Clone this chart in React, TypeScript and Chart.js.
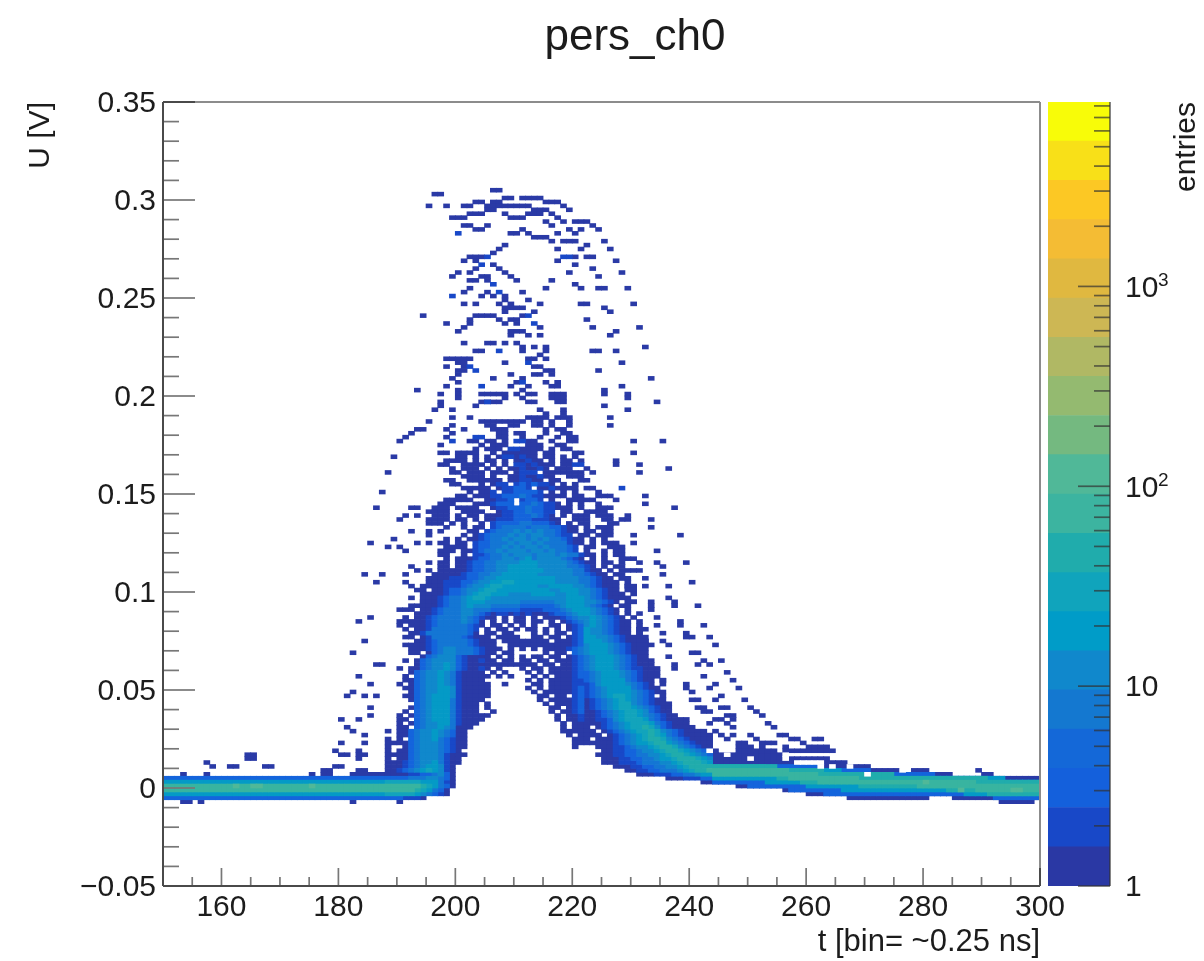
import React, { useEffect, useRef } from "react";
import { Chart, registerables } from "chart.js";
Chart.register(...registerables);

// ---------- labels ----------
const titleText = "pers_ch0";
const xTitle = "t [bin= ~0.25 ns]";
const yTitle = "U [V]";
const zTitle = "entries";
const xMajor = [160, 180, 200, 220, 240, 260, 280, 300];
const xMinor = [155, 165, 170, 175, 185, 190, 195, 205, 210, 215, 225, 230, 235, 245, 250, 255, 265, 270, 275, 285, 290, 295];
const yMajor = [-0.05, 0, 0.05, 0.1, 0.15, 0.2, 0.25, 0.3, 0.35];
const yMinor = [-0.04, -0.03, -0.02, -0.01, 0.01, 0.02, 0.03, 0.04, 0.06, 0.07, 0.08, 0.09, 0.11, 0.12, 0.13, 0.14, 0.16, 0.17, 0.18, 0.19, 0.21, 0.22, 0.23, 0.24, 0.26, 0.27, 0.28, 0.29, 0.31, 0.32, 0.33, 0.34];
const zMajor = [1, 10, 100, 1000];
const zMajorLabels = ["1", "10", "10", "10"];
const zExponents = [[100, "2"], [1000, "3"]] as [number, string][];
const zMinor = [2, 3, 4, 5, 6, 7, 8, 9, 20, 30, 40, 50, 60, 70, 80, 90, 200, 300, 400, 500, 600, 700, 800, 900, 2000, 3000, 4000, 5000, 6000, 7000, 8000];

// ---------- palette and colour bar ----------
const levelColors = ["#2a3aa6", "#1848c8", "#1464dc", "#1476d4", "#1088cc", "#049ac6", "#12a4bc", "#20acac", "#38b4a0", "#50b898"];
const barColors = ["#2a38a4", "#1848c8", "#1460dc", "#1468d8", "#1478d0", "#1088cc", "#009cc8", "#10a4bc", "#20acac", "#3cb4a0", "#50b898", "#74b980", "#94ba70", "#b0b864", "#cdb754", "#e0b840", "#f4bc34", "#fcc824", "#f8e018", "#f8fc08"];
const barEdges = [1, 1.57, 2.47, 3.88, 6.1, 9.57, 15, 23.6, 37, 58.2, 91.5, 144, 226, 355, 557, 875, 1375, 2160, 3390, 5330, 8370];

// ---------- isolated cells: [U of bin centre, t bins...] ----------
const sparseRows: number[][] = [
  [0.305, 206, 207], [0.303, 196, 197], [0.301, 208, 209, 211, 212, 213, 214],
  [0.299, 203, 204, 206, 207, 215, 216, 217],
  [0.297, 195, 198, 201, 202, 205, 206, 207, 208, 209, 210, 211, 212, 218],
  [0.295, 205, 206, 213, 214, 215, 219], [0.293, 202, 203, 204, 208, 212, 213, 214, 216],
  [0.291, 199, 200, 201, 209, 210, 211, 217], [0.289, 215, 218, 220, 221, 222],
  [0.287, 201, 202, 205, 216, 223], [0.285, 203, 204, 211, 219, 221, 224],
  [0.283, 209, 210, 212, 217, 220], [0.281, 213, 214, 215], [0.279, 216, 218, 219, 220, 225],
  [0.277, 208, 222], [0.275, 207, 217, 221, 226], [0.273, 206],
  [0.271, 202, 203, 204, 220, 222, 223], [0.269, 201, 203, 217, 227], [0.267, 206, 220],
  [0.265, 203, 207, 223], [0.263, 202, 208, 219, 228, 200], [0.261, 199, 204, 205, 209, 224],
  [0.259, 202, 203, 205, 210, 216], [0.257, 220], [0.255, 202, 215, 221, 224, 225, 229],
  [0.253, 201, 205, 211], [0.251, 204, 206, 208], [0.249, 208, 212],
  [0.247, 201, 203, 207, 209, 214, 221, 222, 230], [0.245, 208, 209, 210, 211, 225],
  [0.243, 208, 213, 226], [0.241, 194, 203, 204, 205, 206, 211], [0.239, 202, 207, 209, 210, 222],
  [0.237, 198, 202, 208, 210], [0.235, 201, 214, 223, 231], [0.233, 200, 209, 210, 211, 227],
  [0.231, 209, 212, 214, 226], [0.227, 201, 205, 206, 208, 210],
  [0.225, 211, 213, 215, 232], [0.223, 203, 204, 211, 215, 223, 224, 227], [0.221, 214],
  [0.219, 198, 199, 200, 201, 202, 212, 213, 215], [0.217, 200, 201, 208, 228],
  [0.215, 198, 201, 213, 214], [0.213, 200, 201, 215, 216, 224],
  [0.211, 200, 209, 213, 214, 216], [0.209, 199, 206, 211, 233],
  [0.207, 200, 210, 215, 217], [0.205, 198, 209, 212, 216, 217, 228],
  [0.203, 193, 200, 211, 225], [0.201, 197, 200, 204, 205, 206, 207, 208, 210, 212, 213, 216, 217, 218, 229, 225],
  [0.199, 200, 208, 211, 216, 217, 218, 229], [0.197, 197, 204, 205, 206, 207, 212, 213, 217, 218, 234],
  [0.195, 197, 203, 225], [0.193, 196, 199, 214, 218, 229], [0.191, 215, 218],
  [0.189, 199, 202, 212, 213, 214, 215, 217, 218, 219, 226], [0.187, 195, 204, 205, 206, 207, 208, 209, 210, 211, 213, 214, 216, 219],
  [0.185, 199, 205, 206, 209, 210, 213, 214, 216, 219, 226], [0.183, 193, 194, 198, 201, 206, 207, 208, 215, 217, 218],
  [0.181, 192, 199, 207, 208, 210, 211, 215, 218, 219], [0.179, 191, 198, 207, 208, 211, 214, 217, 219, 220],
  [0.177, 190, 202, 203, 205, 206, 208, 212, 213, 216, 219, 220, 230, 235],
  [0.171, 230], [0.169, 189], [0.167, 227], [0.165, 227, 231], [0.163, 236], [0.161, 188, 231],
  [0.149, 232], [0.151, 187], [0.145, 232], [0.143, 186, 237], [0.139, 229], [0.137, 229, 233, 190],
  [0.133, 233], [0.129, 230, 238], [0.127, 189], [0.125, 230, 185], [0.123, 188], [0.121, 234],
  [0.115, 231, 234, 239], [0.113, 235], [0.111, 231], [0.109, 184, 187, 235], [0.107, 228, 232],
  [0.105, 186, 240], [0.103, 229, 232, 236], [0.097, 236], [0.095, 230, 194, 195, 233, 237],
  [0.093, 192, 193, 233, 237, 241], [0.091, 190, 233], [0.087, 185, 234], [0.085, 183, 238], [0.083, 234, 238, 242],
  [0.081, 231], [0.079, 231, 235, 239], [0.077, 239, 240, 243], [0.075, 184, 232, 235], [0.073, 232, 236, 244],
  [0.069, 182, 240, 241], [0.067, 236], [0.065, 233, 242, 245], [0.063, 186, 187, 233, 237, 241, 243],
  [0.061, 234, 237], [0.059, 234, 246], [0.057, 183, 242], [0.055, 235, 247], [0.053, 185, 239, 244],
  [0.051, 239, 243, 248], [0.049, 182, 240], [0.047, 181, 184, 186, 245], [0.045, 240, 241, 244, 249],
  [0.041, 185, 241, 242, 245, 246, 250], [0.039, 242, 243, 251], [0.037, 185, 246, 247, 252],
  [0.035, 180, 183, 239, 244, 245, 247], [0.033, 243, 246, 253], [0.031, 181, 240, 254, 247],
  [0.029, 182, 244], [0.027, 184, 245, 247, 250, 255, 256], [0.025, 246, 251, 257, 258, 261, 262],
  [0.023, 180, 184, 248, 249, 252, 253, 254, 259], [0.021, 248, 249, 250, 252, 256, 260, 261, 262, 263],
  [0.019, 179, 183, 244, 248, 249, 250, 251, 252, 253, 254, 256, 257, 258, 259, 260, 261, 262, 263, 264],
  [0.017, 181, 184, 183, 180, 164, 165],
  [0.015, 183, 164, 165],
  [0.013, 157], [0.011, 179, 180, 158, 161, 162, 167, 168], [0.009, 178, 183, 177, 278, 279, 280, 289, 184],
  [0.007, 153, 157, 175, 177, 178, 182, 183, 184, 185, 186, 187, 276, 290, 291],
  [-0.007, 153, 154, 156, 182, 293, 294, 295, 296, 297, 298],
];
const lightRows: number[][] = [
  [0.283, 200], [0.271, 205, 218, 219], [0.267, 204], [0.257, 206], [0.253, 207], [0.251, 199],
  [0.241, 212], [0.237, 213], [0.223, 207], [0.217, 212], [0.215, 202], [0.213, 203],
  [0.207, 211], [0.205, 204], [0.197, 205], [0.179, 203, 204], [0.177, 199, 210, 211], [0.153, 228],
];
const baselineBright = [[0.001, 162], [0.001, 165], [0.001, 166], [0.001, 175], [0.003, 280], [-0.001, 286], [-0.001, 295], [-0.001, 296]];
const holeRows: number[][] = [
  [0.019, 243], [0.017, 256, 246], [0.015, 256, 250], [0.013, 258, 259, 260, 261, 262], [0.011, 262, 264, 267], [0.007, 270], [0.009, 276],
];

// ---------- dense cells, one character per t bin from gridStartT, top row first; digit = colour level ----------
const gridStartT = 188;
const gridTopU = 0.175;
const gridRows = [
  ".........0......0.000...000..00",
  "...............0.000.110000.0.00",
  ".........00.0000..0.000000.00...00",
  "............00.0.0.0110100.00.0.0",
  "..........0000.0.00.0.00100.0.00.0",
  ".........00..0000.0.0.1101000.0011",
  "...........0.000.0.0.0010010.000..0",
  "...........00.000.000.0111.0000000.0",
  ".............0000.0..00100100..000",
  "..........00..000000.001100.00...00",
  "...........00...0.011.1212110.0.0",
  ".............00000.011221.0010000.00",
  "..............0.001.1122221.0.0.0...0",
  "............00.0001122232110000.00..000",
  "..........00000..00112.1221.0..00000...0",
  ".........000...0001222.2232110.0.0..0",
  "....00..000.0000..01122232211000.0..000",
  ".......0000..0000..0112232211.00..0000",
  "...0.0..000.0.00.000112223210.0.000.000",
  ".......0000.00.0.0011122211100..000..00.0",
  ".......000.0" + ".0..0.122223322210.0.0" + "0...00",
  "..........0." + ".0.00.123333233322100." + "0.000",
  "....0..0.0.." + "..00.1233343434332100." + "00.00",
  ".......0...." + ".0.01233343434433211.0" + "0.000",
  "..........0." + "0.00123343443434332100" + ".0.0",
  ".....0.0.00." + "00.1223334344343333100" + ".0.000",
  "..0.......00" + "00.122334343443433321." + "00..000",
  "...0.....000" + ".00123343444344343321." + "0..0.00",
  ".........00." + ".0.11233434443444343310" + "0.0.00",
  "..........0." + "0001223344345344443210" + ".0.0..000",
  ".......0.00." + "0012233444455544444321" + "00.00.0",
  "....0....00." + "0012233445555544444332" + "10.0.00",
  ".....0.0.000" + "0012233445555554444433" + "100.0.000",
  "...0....0000" + "0122334455555544444433" + "2100.00",
  ".......00001" + "1122344555555555544443" + "32100.00",
  "...0...00011" + "1223445566555555544443" + "321000.0",
  "....0.000011" + "1234456655555544555544" + "321000.00",
  ".....00.0012" + "2344566555555555445554" + "432100.00",
  "......000012" + "2345665554444555544554" + "4321000.0",
  "....0.000123" + "3456654444444444444555" + "43210000",
  "......000123" + "3455544444433333344555" + "443210.00",
  "......000123" + "3454443333322222234555" + "43210.00",
  "...00.001233" + "3443332222211112223455" + "543210.0",
  ".....0001233" + "3443210110101000122345" + "543210.0.0",
  "...0.0012333" + "3432100.0.00.0.0001234" + "4543210.0",
  "..0000012333" + "34320.0.0.00.00.0.0123" + "45432100.0",
  "..0.00012333" + "33210.00.0.0.0..00.012" + "45432100.0",
  "...0.0013333" + "3321.0.00.0.00.0.0.012" + "54432100.00",
  "....00133333" + "3320.00.00...0.0.00.12" + "54432100.0",
  "...00.013333" + "321000.0000..00.00.012" + "55443210000",
  ".....0012333" + "3321000.00000000.00012" + "55543210000",
  "...000012333" + "3321000..0000000000012" + "45554321000" + "0",
  "....00012344" + "33321000.0.0.0.0000123" + "45554321000",
  "....00.02344" + "3332100.00.....0.00.23" + "45554321000",
  "......023444" + "210000.0.0.0.00.00.012" + "34555432100",
  "...0.0234444" + "2100100.00.00.00.00012" + "34555432100",
  ".....0234454" + "21000000000000.00.0012" + "34555432100",
  "..0.00234454" + "210010.0...0.00.000012" + "34555432110" + "0",
  "....02344543" + "10000.0.0...0.0.000012" + "23455543210" + "0",
  "...0.2344543" + "100000.0.0...0.0.00012" + "23455543210" + "00",
  "...002344543" + "10000.......0.0.000011" + "23455553210" + "0.0",
  "..0.02344543" + "100000..0....00.000011" + "12455554321" + "0.0",
  "...002344554" + "100000......0.0.000012" + "12345555321" + "00",
  "....02344554" + "100000.......0.0000012" + "12345555432" + "100",
  "...002345554" + "100000........00.00.12" + "12345665432" + "1.0",
  "....02345553" + "10000.........0.000012" + "01234565432" + "100",
  ".....2345553" + "1000.0.........0.00012" + "01234566432" + "1000",
  "....02345553" + "1000.0..........00.012" + "01234566543" + "2100",
  "...0.2345553" + "1000..0.........0.0012" + "00123456654" + "2100",
  "..0.02345553" + "100000...........0.001" + "00123456654" + "32100",
  "..00.2345553" + "10000............0.001" + "00112456665" + "321000",
  "..0.02344553" + "1000..............0.00" + "00012345666" + "5321000",
  "..00.2344543" + "000...............0.00" + "0.012345667" + "6421000",
  "0.0023445432" + "00................0000" + "00.01234566" + "7643210000",
  "..0023445432" + "00.................0.0" + "000.0123456" + "76532100000",
  "0.0.23445321" + "00..................00" + "0.000123456" + "77643210000",
  "000023444321" + "00..................00" + "00000123455" + "67754321000",
  "0..023444321" + "00..................0." + "..000112344" + "56776432100",
  "0.0023444321" + "0....................." + "...00112234" + "45677654321",
  "000023444310" + "00...................." + "..000112233" + "44567765432",
  "0.0023444310" + "0....................." + "...00011223" + "34556777654",
  "000123445310" + "0....................." + "...00011123" + "33445677765",
  "000123455410" + "......................" + ".....000112" + "23344567777",
  "001234565410" + "......................" + ".......0011" + "22333456778",
  "000011223420" + "......................" + ".........00" + "01112233455",
  "222233344320" + "......................" + "..........." + "...00011122",
  "666666555310" + "......................" + "..........." + ".........00",
  "888888765320",
  "88888765320.",
  "66666543210.",
  "2221110.....",
  "..0.........",
];

// ---------- bands, one list per colour level: [first t bin, last t bin, U low, U high] ----------
const bandL0 = [
  [244, 247, 0.002, 0.018], [248, 255, 0, 0.018], [256, 259, -0.002, 0.016], [260, 263, -0.004, 0.016],
  [264, 266, -0.004, 0.014], [267, 270, -0.006, 0.012], [271, 275, -0.006, 0.01], [276, 280, -0.006, 0.008],
  [281, 284, -0.004, 0.008], [285, 292, -0.006, 0.006], [293, 300, -0.006, 0.006],
];
const bandL2 = [
  [150, 187, -0.006, 0.006], [244, 249, 0.002, 0.012], [250, 256, 0, 0.012], [257, 262, -0.002, 0.012],
  [263, 270, -0.004, 0.01], [271, 281, -0.004, 0.008], [282, 291, -0.004, 0.006], [292, 300, -0.006, 0.004],
];
const bandL5 = [
  [150, 187, -0.004, 0.004], [244, 252, 0.004, 0.012], [253, 259, 0.002, 0.01], [260, 265, 0, 0.01],
  [266, 272, -0.002, 0.008], [273, 286, -0.002, 0.006], [287, 293, -0.004, 0.006], [294, 300, -0.004, 0.004],
];
const bandL7 = [
  [244, 254, 0.006, 0.012], [255, 258, 0.004, 0.01], [259, 262, 0.002, 0.01], [263, 268, 0.002, 0.008],
  [269, 274, 0, 0.008], [275, 283, 0, 0.006], [284, 290, -0.002, 0.006], [291, 300, -0.004, 0.004],
];
const bandL8 = [
  [150, 187, -0.002, 0.002], [244, 256, 0.006, 0.01], [257, 261, 0.004, 0.008], [262, 268, 0.002, 0.006],
  [269, 278, 0.002, 0.004], [279, 288, 0, 0.004], [289, 300, -0.002, 0.002],
];

type Bar = { x: number; y: [number, number] };
const BIN_U = 0.002;

function buildLevels(): Bar[][] {
  const levels: Bar[][] = levelColors.map(() => []);
  const cell = (l: number, t: number, lo: number, hi: number) => levels[l].push({ x: t + 0.5, y: [lo, hi] });
  const addBands = (l: number, bands: number[][]) =>
    bands.forEach(([a, b, lo, hi]) => { for (let t = a; t <= b && t < 300; t++) cell(l, t, lo, hi); });
  addBands(0, bandL0); addBands(2, bandL2); addBands(5, bandL5); addBands(7, bandL7); addBands(8, bandL8);
  sparseRows.forEach(([u, ...ts]) => ts.forEach((t) => cell(0, t, u - BIN_U / 2, u + BIN_U / 2)));
  lightRows.forEach(([u, ...ts]) => ts.forEach((t) => cell(1, t, u - BIN_U / 2, u + BIN_U / 2)));
  baselineBright.forEach(([u, t]) => cell(9, t, u - BIN_U / 2, u + BIN_U / 2));
  gridRows.forEach((row, i) => {
    const u = gridTopU - i * BIN_U;
    [...row].forEach((c, j) => {
      if (c !== ".") cell(Number(c), gridStartT + j, u - BIN_U / 2, u + BIN_U / 2);
    });
  });
  return levels;
}

const FONT = "'Liberation Sans', Arial, sans-serif";
const TEXT = "#1c1c1c";

const mainPlugin = {
  id: "rootFrame",
  afterDatasetsDraw(chart: any) {
    const { ctx, chartArea: a, scales } = chart;
    const xs = scales.x, ys = scales.y;
    ctx.save();
    ctx.strokeStyle = "#777";
    ctx.lineWidth = 1.7;
    const seg = (x1: number, y1: number, x2: number, y2: number) => {
      ctx.beginPath(); ctx.moveTo(x1, y1); ctx.lineTo(x2, y2); ctx.stroke();
    };
    xMajor.slice(0, -1).forEach((v) => seg(xs.getPixelForValue(v), a.bottom, xs.getPixelForValue(v), a.bottom - 18));
    xMinor.forEach((v) => seg(xs.getPixelForValue(v), a.bottom, xs.getPixelForValue(v), a.bottom - 9));
    yMajor.slice(1, -1).forEach((v) => seg(a.left, ys.getPixelForValue(v), a.left + 32, ys.getPixelForValue(v)));
    yMinor.forEach((v) => seg(a.left, ys.getPixelForValue(v), a.left + 16, ys.getPixelForValue(v)));
    ctx.strokeStyle = "#8c8c8c";
    ctx.lineWidth = 2;
    seg(a.left, a.top, a.right, a.top);
    seg(a.right, a.top, a.right, a.bottom);
    ctx.strokeStyle = "#4a4a4a";
    seg(a.left, a.top, a.left, a.bottom);
    seg(a.left, a.bottom, a.right, a.bottom);
    seg(a.left, a.top, a.left + 32, a.top);
    seg(a.right, a.bottom, a.right, a.bottom - 18);
    ctx.fillStyle = TEXT;
    ctx.textAlign = "center";
    ctx.textBaseline = "middle";
    ctx.font = `44px ${FONT}`;
    ctx.fillText(titleText, 635, 38);
    ctx.restore();
  },
};

const barPlugin = {
  id: "paletteFrame",
  afterDatasetsDraw(chart: any) {
    const { ctx, chartArea: a, scales } = chart;
    const ys = scales.y;
    ctx.save();
    ctx.strokeStyle = "rgba(50,50,50,0.7)";
    ctx.lineWidth = 1.7;
    const seg = (x1: number, y1: number, x2: number, y2: number) => {
      ctx.beginPath(); ctx.moveTo(x1, y1); ctx.lineTo(x2, y2); ctx.stroke();
    };
    zMajor.forEach((v) => seg(a.right, ys.getPixelForValue(v), a.right - 32, ys.getPixelForValue(v)));
    zMinor.forEach((v) => seg(a.right, ys.getPixelForValue(v), a.right - 16, ys.getPixelForValue(v)));
    seg(a.right, a.top, a.right, a.bottom);
    ctx.fillStyle = TEXT;
    ctx.textAlign = "left";
    ctx.textBaseline = "middle";
    ctx.font = `19px ${FONT}`;
    zExponents.forEach(([v, e]) => ctx.fillText(e, 1158, ys.getPixelForValue(v) - 6));
    ctx.translate(1187, 102);
    ctx.rotate(-Math.PI / 2);
    ctx.textAlign = "right";
    ctx.font = `30px ${FONT}`;
    ctx.fillText(zTitle, 0, 0);
    ctx.restore();
  },
};

export default function App() {
  const mainRef = useRef<HTMLCanvasElement>(null);
  const barRef = useRef<HTMLCanvasElement>(null);

  useEffect(() => {
    const levels = buildLevels();
    const main = new Chart(mainRef.current as any, {
      type: "bar",
      data: {
        datasets: [
          ...levels.map((data, i) => ({
            label: `level ${i}`,
            data: data as any,
            backgroundColor: levelColors[i],
            borderWidth: 0,
            barThickness: 6,
            grouped: false,
            order: 100 - i,
          })),
          {
            label: "empty",
            data: holeRows.flatMap(([u, ...ts]) => ts.map((t) => ({ x: t + 0.5, y: [u - BIN_U / 2, u + BIN_U / 2] }))) as any,
            backgroundColor: "#ffffff",
            borderWidth: 0,
            barThickness: 6,
            grouped: false,
            order: 0,
          },
        ],
      },
      options: {
        responsive: false,
        animation: false,
        devicePixelRatio: 1,
        layout: { padding: { top: 102, right: 164, bottom: 0, left: 0 } },
        plugins: { legend: { display: false }, tooltip: { enabled: false } },
        scales: {
          x: {
            type: "linear",
            offset: false,
            min: 150,
            max: 300,
            grid: { display: false, drawTicks: false },
            border: { display: false },
            afterFit: (s: any) => { s.height = 75; },
            afterBuildTicks: (s: any) => { s.ticks = xMajor.map((value) => ({ value })); },
            ticks: {
              autoSkip: false, maxRotation: 0, padding: 4, color: TEXT,
              font: { family: FONT, size: 30 },
              callback: (v: any) => String(v),
            },
            title: {
              display: true, text: xTitle, align: "end", color: TEXT,
              font: { family: FONT, size: 31 }, padding: { top: 0, bottom: 0 },
            },
          },
          y: {
            min: -0.05,
            max: 0.35,
            grid: { display: false, drawTicks: false },
            border: { display: false },
            afterFit: (s: any) => { s.width = 163; },
            afterBuildTicks: (s: any) => { s.ticks = yMajor.map((value) => ({ value })); },
            ticks: {
              autoSkip: false, padding: 7, color: TEXT, labelOffset: 2,
              font: { family: FONT, size: 30 },
              callback: (v: any) => (Math.abs(v) < 1e-9 ? "0" : v < 0 ? "\u2212" + String(Math.abs(v)) : String(v)),
            },
            title: {
              display: true, text: yTitle, align: "end", color: TEXT,
              font: { family: FONT, size: 30 }, padding: { top: 23, bottom: 0 },
            },
          },
        },
      },
      plugins: [mainPlugin],
    } as any);

    const bar = new Chart(barRef.current as any, {
      type: "bar",
      data: {
        labels: [zTitle],
        datasets: barColors.map((c, i) => ({
          label: `contour ${i}`,
          data: [[barEdges[i], barEdges[i + 1]]] as any,
          backgroundColor: c,
          borderWidth: 0,
          barPercentage: 1,
          categoryPercentage: 1,
          grouped: false,
        })),
      },
      options: {
        responsive: false,
        animation: false,
        devicePixelRatio: 1,
        layout: { padding: { top: 102, right: 0, bottom: 75, left: 1048 } },
        plugins: { legend: { display: false }, tooltip: { enabled: false } },
        scales: {
          x: { display: false },
          y: {
            type: "logarithmic",
            position: "right",
            min: 1,
            max: 8370,
            grid: { display: false, drawTicks: false },
            border: { display: false },
            afterFit: (s: any) => { s.width = 94; },
            afterBuildTicks: (s: any) => { s.ticks = zMajor.map((value) => ({ value })); },
            ticks: {
              autoSkip: false, padding: 15, color: TEXT, labelOffset: 2,
              font: { family: FONT, size: 30 },
              callback: (v: any) => zMajorLabels[zMajor.indexOf(Number(v))] ?? "",
            },
          },
        },
      },
      plugins: [barPlugin],
    } as any);

    return () => { main.destroy(); bar.destroy(); };
  }, []);

  const style: React.CSSProperties = { position: "absolute", left: 0, top: 0, filter: "blur(0.5px)" };
  return (
    <div style={{ position: "absolute", left: 0, top: 0, width: 1204, height: 961, background: "#fff" }}>
      <canvas ref={mainRef} width={1204} height={961} style={style} />
      <canvas ref={barRef} width={1204} height={961} style={style} />
    </div>
  );
}
